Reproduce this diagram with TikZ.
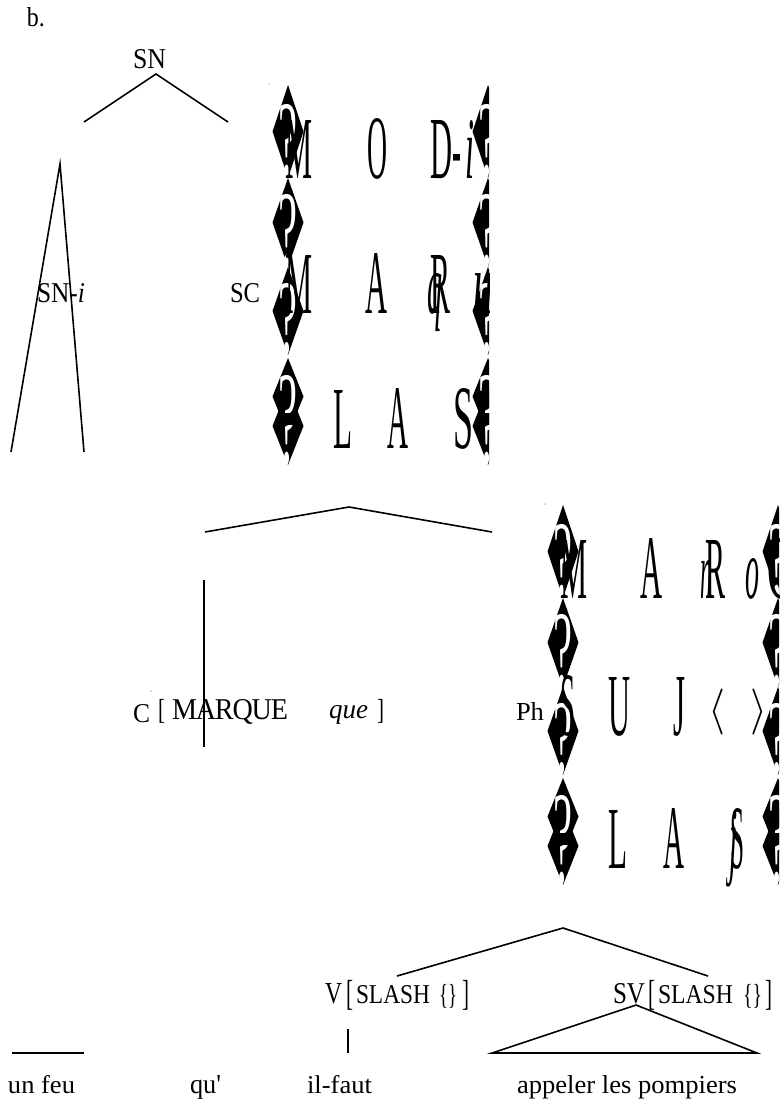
\documentclass[tikz,border=0pt]{standalone}
\usepackage{graphicx}
\usepackage{fontspec}
\setmainfont{Liberation Serif}
\tikzset{
  x=1pt,y=-1pt,
  lab/.style={inner sep=0pt,outer sep=0pt,anchor=base west},
  edge/.style={line width=1.6pt,black},
  thin edge/.style={line width=1.3pt,black}
}
% \tx{name}{x}{baseline}{width}{height}{text}
\newcommand\tx[6]{\node[lab] (#1) at (#2,#3) {\resizebox{#4pt}{#5pt}{#6}};}
\newcommand\ontheline[1]{\raisebox{\depth}{#1}}
% lozenge: x centre, top, bottom
\newcommand\lozb[3]{\fill[black] (#1,#2) -- (#1+15.5,{(#2+#3)/2}) -- (#1,#3) -- (#1-15.5,{(#2+#3)/2}) -- cycle;}
% white question mark: x centre, height, foot
\newcommand\qm[3]{\node[lab,text=white] at (#1-10,#3) {\resizebox{19pt}{#2pt}{?}};}
\newcommand\lozcol[2]{%
  \begin{scope}[shift={(0,#2)}]
  \lozb{#1}{85}{178}\qm{#1}{72}{176}
  \lozb{#1}{178}{267}\qm{#1}{72}{266}
  \lozb{#1}{267}{355}\qm{#1}{70}{353}
  \lozb{#1}{358}{435}\lozb{#1}{387}{465}
  \begin{scope}\clip (#1-20,370) rectangle (#1+20,412);\qm{#1}{72}{447}\end{scope}
  \begin{scope}\clip (#1-20,425) rectangle (#1+20,470);\qm{#1}{72}{463}\end{scope}
  \end{scope}}
\begin{document}
\begin{tikzpicture}
\useasboundingbox (0,0) rectangle (779,1105);
\fill[white] (0,0) rectangle (779,1105);

% ---- upper feature matrix
\begin{scope}
\clip (0,0) rectangle (489,1105);
\lozcol{288}{0}
\lozcol{488}{0}
\tx{aM}{285}{178}{27}{58}{M}
\tx{aO}{367}{178}{20}{60}{O}
\tx{aD}{430}{178}{22}{58}{D}
\tx{ah}{452}{178}{9}{24}{-}
\tx{ai}{465}{178}{9}{58}{\itshape i}
\tx{bM}{285}{313}{27}{58}{M}
\tx{bA}{365}{313}{22}{60}{A}
\tx{bR}{430}{313}{20}{58}{R}
\tx{bq}{427}{313}{15}{40}{\itshape q}
\tx{bu}{473}{313}{20}{40}{\itshape u}
\tx{cL}{333}{448}{19}{58}{L}
\tx{cA}{387}{448}{21}{60}{A}
\tx{cS}{453}{448}{20}{60}{S}
\end{scope}

% ---- lower feature matrix
\begin{scope}
\clip (0,0) rectangle (779,1105);
\lozcol{563}{420}
\lozcol{778}{420}
\tx{dM}{560}{598}{27}{58}{M}
\tx{dA}{640}{598}{22}{60}{A}
\tx{dn}{700}{598}{12}{38}{\itshape n}
\tx{dR}{705}{598}{20}{58}{R}
\tx{do}{745}{598}{14}{40}{\itshape o}
\tx{dC}{767}{598}{26}{60}{C}
\tx{eS}{560}{735}{15}{60}{S}
\tx{eU}{608}{735}{22}{58}{U}
\tx{eJ}{673}{735}{12}{58}{J}
\tx{el}{708}{735}{17}{46}{\ontheline{$\langle$}}
\tx{er}{750}{735}{17}{46}{\ontheline{$\rangle$}}
\tx{fL}{608}{868}{19}{58}{L}
\tx{fA}{663}{868}{21}{60}{A}
\tx{fj}{729}{868}{8}{58}{\itshape j}
\tx{fS}{730}{868}{14}{60}{S}
\end{scope}

% ---- labels
\tx{b}{27}{27}{18}{19}{b.}
\tx{SNtop}{133}{69}{33}{19}{SN}
\tx{SNi}{37}{302}{48}{19}{SN-\textit{i}}
\tx{SC}{230}{302}{30}{19}{SC}
\tx{C}{133}{722}{17}{18}{C}
\tx{brl}{158}{723}{7}{24}{\ontheline{[}}
\tx{marque}{172}{719}{116}{20}{\fontsize{30}{30}\selectfont\addfontfeature{LetterSpace=-4}MARQUE}
\tx{que}{329}{718}{39}{13}{\itshape que}
\tx{brr}{377}{723}{7}{24}{\ontheline{]}}
\tx{Ph}{516}{720}{28}{18}{Ph}
\tx{V}{325}{1003}{17}{20}{V}
\tx{vl}{346}{1010}{7}{30}{\ontheline{[}}
\tx{vs}{356}{1003}{74}{18}{SLASH}
\tx{vb}{439}{1008}{18}{24}{\ontheline{\{\}}}
\tx{vr}{462}{1010}{7}{30}{\ontheline{]}}
\tx{SV}{613}{1003}{32}{20}{SV}
\tx{wl}{648}{1010}{7}{30}{\ontheline{[}}
\tx{ws}{658}{1003}{75}{18}{SLASH}
\tx{wb}{743}{1008}{19}{24}{\ontheline{\{\}}}
\tx{wr}{765}{1010}{7}{30}{\ontheline{]}}
\tx{unfeu}{8}{1093}{67}{18}{un feu}
\tx{qu}{190}{1093}{31}{18}{qu\textquotesingle}
\tx{ilfaut}{307}{1093}{65}{18}{il-faut}
\tx{appeler}{517}{1093}{220}{18}{appeler les pompiers}

% specks
\fill (269,84) circle (.5);
\fill (545,504) circle (.5);
\fill (151,691) circle (.5);

% ---- connector ends
\coordinate (top) at (156,74);
\coordinate (topL) at (84,122);
\coordinate (topR) at (228,122);
\coordinate (tA) at (60,164);
\coordinate (tL) at (11,452);
\coordinate (tR) at (84,452);
\coordinate (mid) at (349,507);
\coordinate (midL) at (205,532);
\coordinate (midR) at (492,532);
\coordinate (cT) at (204,580);
\coordinate (cB) at (204,747);
\coordinate (ph) at (563,928);
\coordinate (phL) at (397,976);
\coordinate (phR) at (708,976);
\coordinate (uL) at (12,1053);
\coordinate (uR) at (84,1053);
\coordinate (vT) at (348,1029);
\coordinate (vB) at (348,1053);
\coordinate (svT) at (636,1005);
\coordinate (svL) at (492,1053);
\coordinate (svR) at (757,1053);

\draw[edge] (topL) -- (top) -- (topR);
\draw[edge] (tL) -- (tA) -- (tR);
\draw[edge] (midL) -- (mid) -- (midR);
\draw[edge] (cT) -- (cB);
\draw[edge] (phL) -- (ph) -- (phR);
\draw[edge] (uL) -- (uR);
\draw[thin edge] (vT) -- (vB);
\draw[edge] (svT) -- (svL) -- (svR) -- cycle;
\end{tikzpicture}
\end{document}
